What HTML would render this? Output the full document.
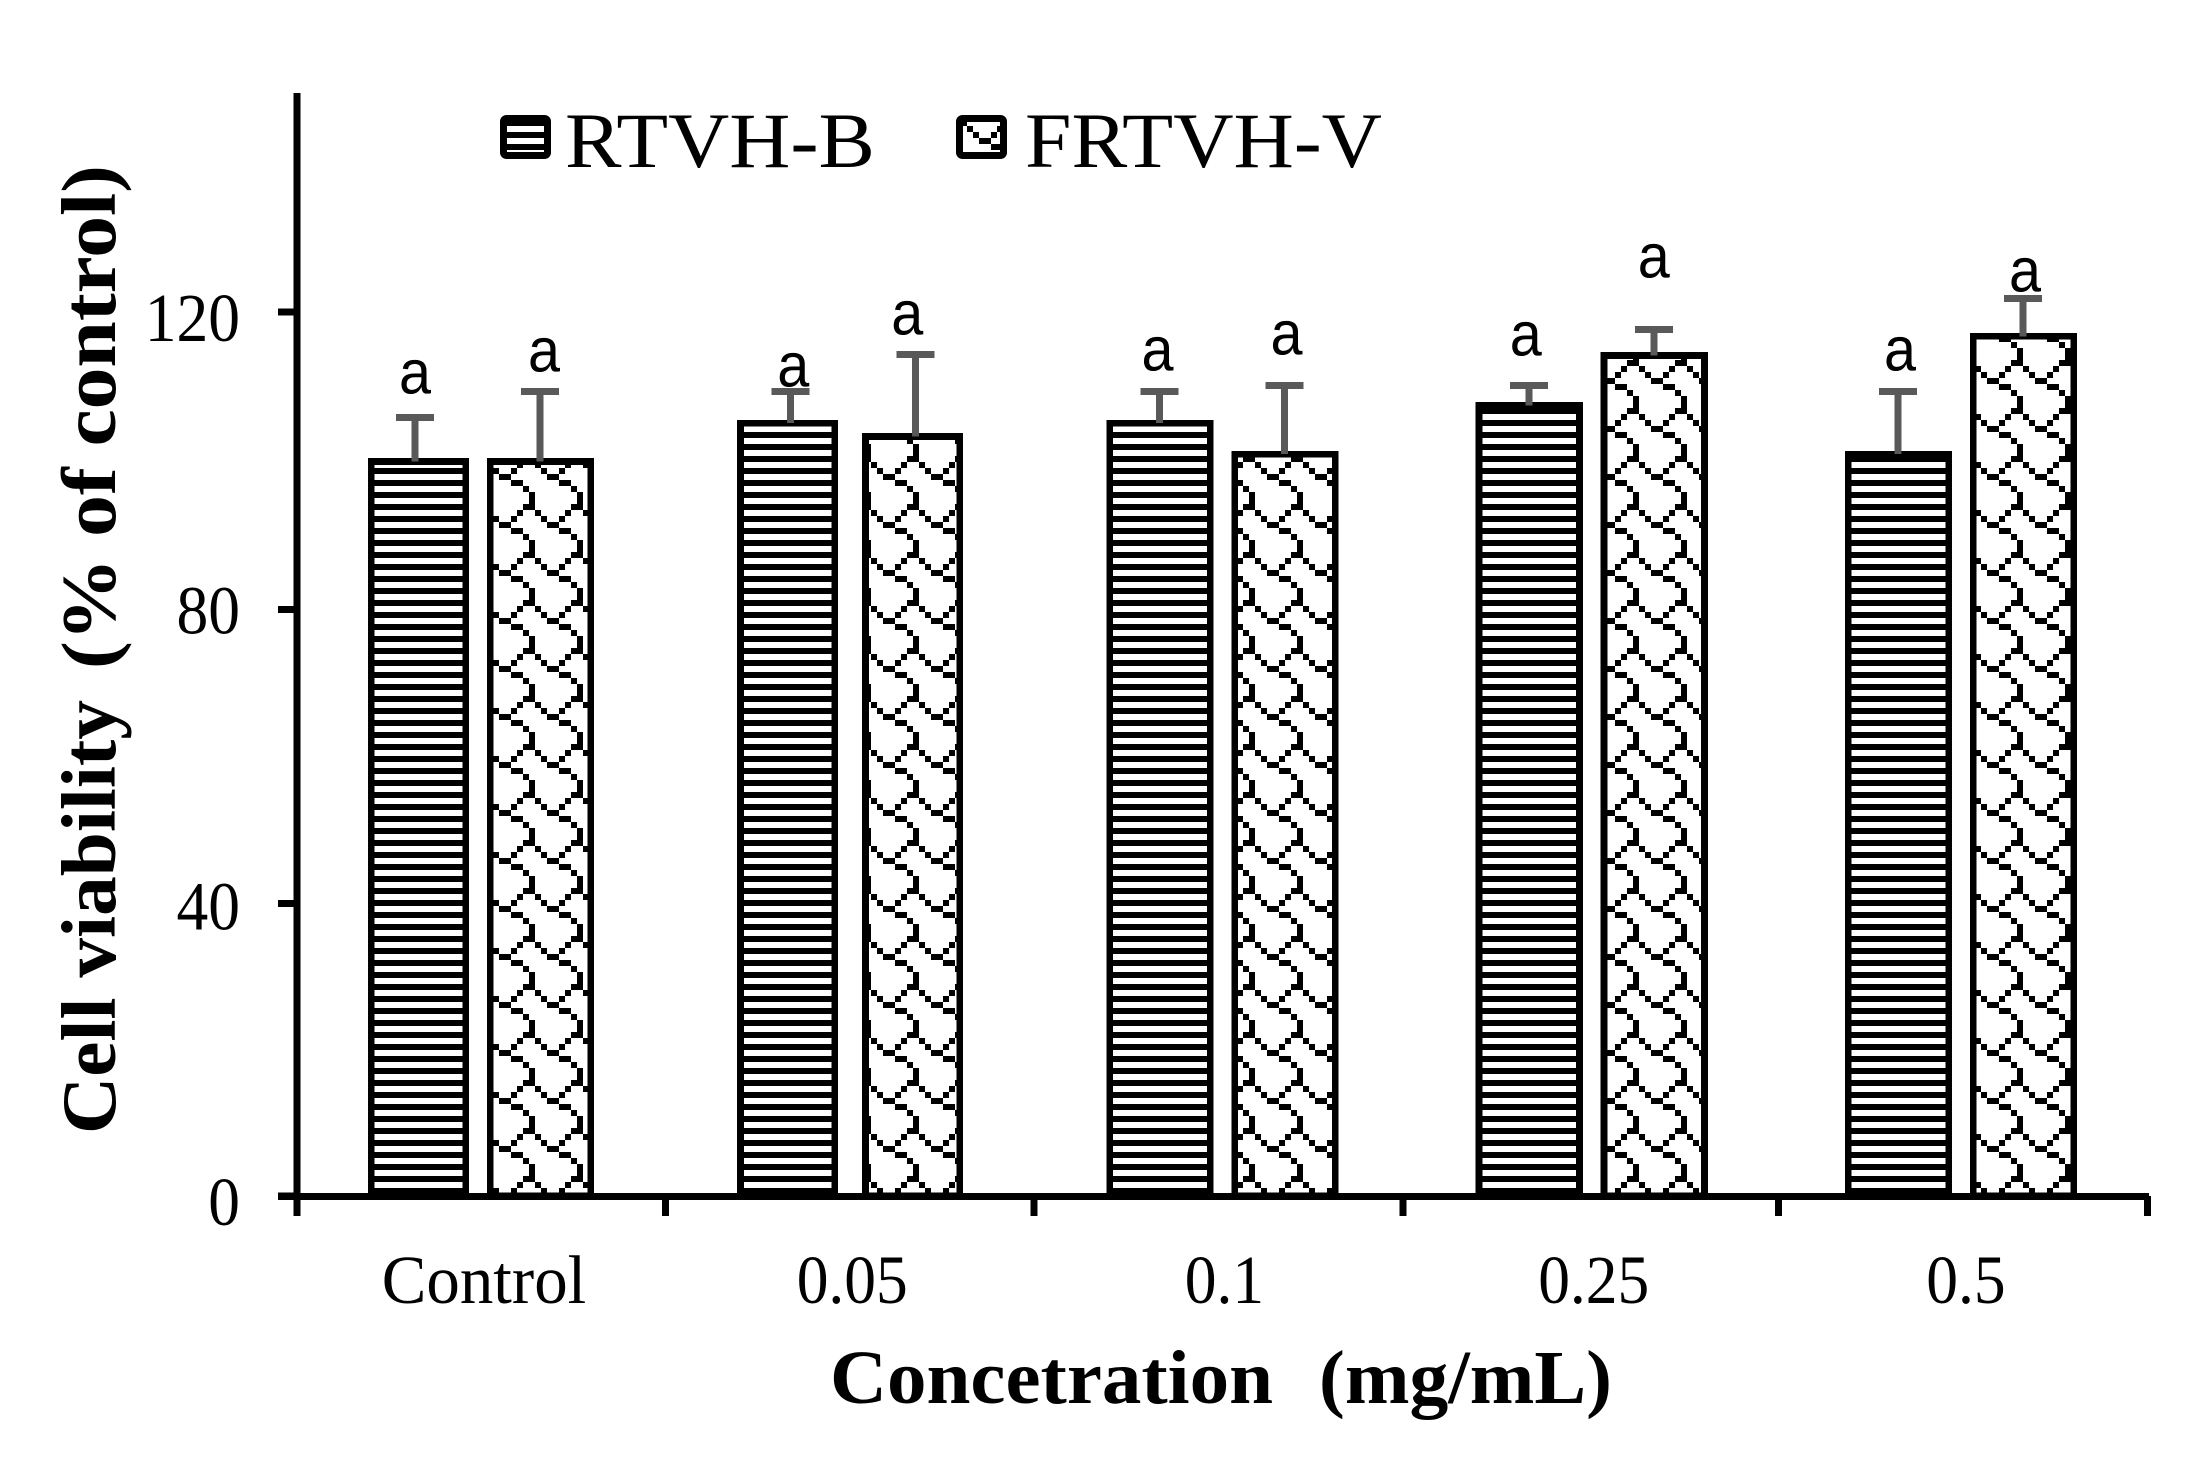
<!DOCTYPE html>
<html lang="en">
<head>
<meta charset="utf-8">
<title>Cell viability chart</title>
<style>
html,body{margin:0;padding:0;background:#fff;}
svg{display:block;}
text{font-family:"Liberation Serif",serif;fill:#000;white-space:pre;}
</style>
</head>
<body>
<svg id="chart" xmlns="http://www.w3.org/2000/svg" width="2187" height="1462" viewBox="0 0 2187 1462">
<defs>
<pattern id="stripes" patternUnits="userSpaceOnUse" x="0" y="0" width="12" height="12">
<rect width="12" height="12" fill="#fff"/>
<rect width="12" height="6" fill="#000"/>
</pattern>
<pattern id="waves" patternUnits="userSpaceOnUse" x="499" y="474" width="48" height="48" shape-rendering="crispEdges">
<rect width="48" height="48" fill="#fff"/>
<rect x="0" y="0" width="12" height="6"/>
<rect x="12" y="6" width="12" height="6"/>
<rect x="24" y="12" width="6" height="6"/>
<rect x="30" y="18" width="6" height="12"/>
<rect x="24" y="30" width="12" height="6"/>
<rect x="18" y="36" width="6" height="6"/>
<rect x="36" y="36" width="6" height="6"/>
<rect x="12" y="42" width="6" height="6"/>
<rect x="42" y="42" width="6" height="6"/>
</pattern>
</defs>
<rect width="2187" height="1462" fill="#fff"/>
<g id="bars"></g>
<g id="errors"></g>
<g id="letters"></g>
<g id="axes"></g>
<g>
<g>
<rect x="503.5" y="118.5" width="44" height="37" rx="3" fill="url(#stripes)" stroke="#000" stroke-width="7"/>
<text x="565" y="167" font-size="78" textLength="310" lengthAdjust="spacingAndGlyphs">RTVH-B</text>
</g>
<g>
<rect x="959.5" y="118.5" width="44" height="37" rx="3" fill="url(#waves)" stroke="#000" stroke-width="7"/>
<text x="1025" y="167" font-size="78" textLength="357" lengthAdjust="spacingAndGlyphs">FRTVH-V</text>
</g>
</g>
<g>
<text x="830" y="1403" font-size="76" font-weight="bold" textLength="443" lengthAdjust="spacingAndGlyphs">Concetration</text>
<text x="1319" y="1403" font-size="76" font-weight="bold" textLength="293" lengthAdjust="spacingAndGlyphs">(mg/mL)</text>
</g>
<g>
<text transform="translate(115,1134) rotate(-90)" x="0" y="0" font-size="77" font-weight="bold" textLength="434" lengthAdjust="spacingAndGlyphs">Cell viability</text>
<text transform="translate(115,669) rotate(-90)" x="0" y="0" font-size="77" font-weight="bold" textLength="504" lengthAdjust="spacingAndGlyphs">(% of control)</text>
</g>
</svg>
<script>
const categories = ['Control', '0.05', '0.1', '0.25', '0.5'];
const rtvhB = [99.7, 104.9, 104.9, 107.3, 100.7];
const frtvhV = [99.7, 103.1, 100.7, 114.1, 116.7];
const errB = [6.0, 4.3, 4.3, 2.7, 8.5];
const errV = [9.5, 11.1, 9.3, 3.5, 5.1];
const lettersB = ['a', 'a', 'a', 'a', 'a'];
const lettersV = ['a', 'a', 'a', 'a', 'a'];
const yTicks = [0, 40, 80, 120];

const NS = 'http://www.w3.org/2000/svg';
const Y0 = 1196, PX_PER_UNIT = 7.367;
const STROKE = 6.7;
function yScale(v) { return Y0 - v * PX_PER_UNIT; }
function tickNudge(v) { return v === 80 ? 3 : v === 40 ? 2 : 0; }
function labelDrop(v) { return v === 80 ? 24 : v === 40 ? 26 : 29; }
function groupLeft(i) { return 368 + 369.25 * i; }
function boundary(i) { return 296.8 + 368.7 * i + (i >= 4 ? 7 : 0); }
function barWidthB(i) { return i < 2 ? 101 : 107; }
function barWidthV(i) { return i === 1 ? 101 : 107; }
function barLeftV(i) { return groupLeft(i) + (i === 0 ? 119 : 125); }
function stemB(i) { return groupLeft(i) + (i === 0 ? 47 : 53); }
function stemV(i) { return barLeftV(i) + 53; }
function letterGapB(i) { return [24, 5, 21, 30, 21][i]; }
function letterGapV(i) { return [20, 20, 31, 52, 7][i]; }
function letterShiftB(i) { return [0, 3, -2, -3, 2][i]; }
function letterShiftV(i) { return [4, -8, 2, 0, 2][i]; }

function make(tag, parent, attrs) {
  const el = document.createElementNS(NS, tag);
  for (const k in attrs) el.setAttribute(k, attrs[k]);
  parent.appendChild(el);
  return el;
}

const barsG = document.getElementById('bars');
const errG = document.getElementById('errors');
const letG = document.getElementById('letters');
const axesG = document.getElementById('axes');

function drawBar(left, width, value, fill, cat, series) {
  const top = yScale(value);
  const el = make('rect', barsG, {
    x: left + STROKE / 2, y: top, width: width - STROKE,
    height: Y0 - top, fill: fill, stroke: '#000', 'stroke-width': STROKE,
    'shape-rendering': 'crispEdges'
  });
  
  
}

function drawError(x, value, err, cat, series) {
  const capY = yScale(value + err);
  const stem = make('rect', errG, {
    x: x - 3.5, y: capY, width: 7, height: yScale(value) - capY, fill: '#595959',
    'shape-rendering': 'crispEdges'
  });
  
  
  const cap = make('rect', errG, {
    x: x - 19, y: capY - 3.5, width: 38, height: 7, fill: '#595959',
    'shape-rendering': 'crispEdges'
  });
  
  
}

function drawLetter(x, y, letter, cat, series) {
  const t = make('text', letG, {
    x: x, y: y, 'font-size': 62, 'text-anchor': 'middle',
    style: 'font-family:"Liberation Sans",sans-serif',
    textLength: 32, lengthAdjust: 'spacingAndGlyphs'
  });
  t.textContent = letter;
  
  
}

categories.forEach(function (cat, i) {
  const key = cat.toLowerCase().replace('.', '-');
  drawBar(groupLeft(i), barWidthB(i), rtvhB[i], 'url(#stripes)', key, 'rtvh-b');
  drawBar(barLeftV(i), barWidthV(i), frtvhV[i], 'url(#waves)', key, 'frtvh-v');
  drawError(stemB(i), rtvhB[i], errB[i], key, 'rtvh-b');
  drawError(stemV(i), frtvhV[i], errV[i], key, 'frtvh-v');
  drawLetter(stemB(i) + letterShiftB(i), yScale(rtvhB[i] + errB[i]) - letterGapB(i), lettersB[i], key, 'rtvh-b');
  drawLetter(stemV(i) + letterShiftV(i), yScale(frtvhV[i] + errV[i]) - letterGapV(i), lettersV[i], key, 'frtvh-v');
});

const yAxis = make('rect', axesG, { x: 293.3, y: 93, width: 7, height: 1123, fill: '#000', 'shape-rendering': 'crispEdges' });


const xAxis = make('rect', axesG, { x: 278, y: 1193, width: 1871, height: 7, fill: '#000', 'shape-rendering': 'crispEdges' });



yTicks.forEach(function (v) {
  const tickY = yScale(v) + tickNudge(v);
  const tick = make('rect', axesG, { x: 278, y: tickY - 3.5, width: 20, height: 7, fill: '#000', 'shape-rendering': 'crispEdges' });
  
  
  const label = make('text', axesG, { x: 240, y: tickY + labelDrop(v), 'font-size': 69, 'text-anchor': 'end' });
  label.textContent = String(v);
  label.setAttribute('textLength', (label.getComputedTextLength() * 0.92).toFixed(1));
  label.setAttribute('lengthAdjust', 'spacingAndGlyphs');
  
  
});

for (let i = 0; i <= categories.length; i++) {
  const tick = make('rect', axesG, { x: boundary(i) - 3.5, y: 1196, width: 7, height: 20, fill: '#000', 'shape-rendering': 'crispEdges' });
  
  
}

categories.forEach(function (cat, i) {
  const centre = (groupLeft(i) + barLeftV(i) + barWidthV(i)) / 2 + (i === 0 ? 3 : i === 4 ? 5 : 2);
  const label = make('text', axesG, { x: centre, y: 1303, 'font-size': 69, 'text-anchor': 'middle' });
  label.textContent = cat;
  const factor = isNaN(Number(cat)) ? 0.97 : 0.92;
  label.setAttribute('textLength', (label.getComputedTextLength() * factor).toFixed(1));
  label.setAttribute('lengthAdjust', 'spacingAndGlyphs');
  
  
});
</script>
</body>
</html>
